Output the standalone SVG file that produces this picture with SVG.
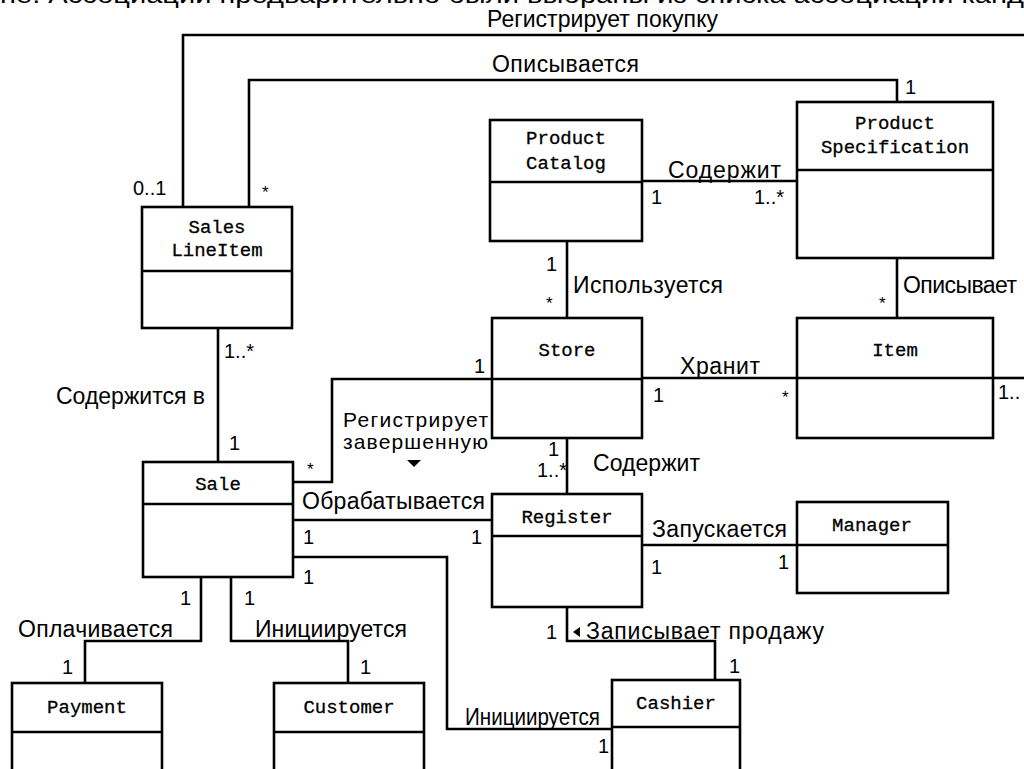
<svg xmlns="http://www.w3.org/2000/svg" width="1024" height="769" viewBox="0 0 1024 769">
  <style>
    .box { fill: #fff; stroke: #000; stroke-width: 2.6; }
    .div { stroke: #000; stroke-width: 2.6; }
    .cls { font-family: "Liberation Mono", "DejaVu Sans Mono", monospace; font-size: 19px; fill: #000; stroke: #000; stroke-width: 0.3; text-anchor: middle; }
    .lbl { font-family: "Liberation Sans", Arial, sans-serif; font-size: 23px; fill: #000; }
    .lbl2 { font-family: "Liberation Sans", Arial, sans-serif; font-size: 21px; fill: #000; }
    .mul { font-family: "Liberation Sans", Arial, sans-serif; font-size: 20px; fill: #000; }
    .star { font-family: "Liberation Sans", Arial, sans-serif; font-size: 17px; fill: #000; }
    .conn { fill: none; stroke: #000; stroke-width: 2.6; }
    .cap { font-family: "Liberation Sans", Arial, sans-serif; font-size: 23px; fill: #000; }
  </style>
  <rect width="1024" height="769" fill="#fff"/>

  <!-- caption line running off the top edge -->
  <text class="cap" x="0" y="3" textLength="1024" lengthAdjust="spacingAndGlyphs">не. Ассоциации предварительно были выбраны из списка ассоциаций канд</text>

  <!-- associations -->
  <g id="connectors">
    <polyline class="conn" points="183,207 183,35 1024,35"/>
    <polyline class="conn" points="249,207 249,80 897,80 897,102"/>
    <line class="conn" x1="642" y1="181" x2="797" y2="181"/>
    <line class="conn" x1="567" y1="241" x2="567" y2="318"/>
    <line class="conn" x1="897" y1="258" x2="897" y2="318"/>
    <line class="conn" x1="642" y1="378" x2="797" y2="378"/>
    <line class="conn" x1="993" y1="378" x2="1024" y2="378"/>
    <line class="conn" x1="218" y1="328" x2="218" y2="462"/>
    <polyline class="conn" points="492,379 332,379 332,482 293,482"/>
    <line class="conn" x1="567" y1="438" x2="567" y2="494"/>
    <line class="conn" x1="293" y1="520" x2="492" y2="520"/>
    <line class="conn" x1="642" y1="545" x2="797" y2="545"/>
    <polyline class="conn" points="293,557 447,557 447,729 612,729"/>
    <polyline class="conn" points="567,607 567,641 715,641 715,680"/>
    <polyline class="conn" points="201,577 201,641 85,641 85,683"/>
    <polyline class="conn" points="231,577 231,641 348,641 348,683"/>
  </g>

  <!-- association labels and multiplicities -->
  <g id="labels">
    <text class="lbl" x="487" y="27" textLength="231">Регистрирует покупку</text>
    <text class="lbl" x="492" y="72" textLength="147">Описывается</text>
    <text class="mul" x="905" y="94">1</text>
    <text class="mul" x="133" y="195">0..1</text>
    <text class="star" x="262" y="198">*</text>

    <text class="lbl" x="668" y="178" textLength="113">Содержит</text>
    <text class="mul" x="651" y="204">1</text>
    <text class="mul" x="754" y="204">1..*</text>

    <text class="mul" x="546" y="271">1</text>
    <text class="star" x="546" y="309">*</text>
    <text class="lbl" x="573" y="293" textLength="150">Используется</text>

    <text class="star" x="879" y="309">*</text>
    <text class="lbl" x="903" y="293" textLength="114">Описывает</text>

    <text class="lbl" x="680" y="374" textLength="80">Хранит</text>
    <text class="mul" x="653" y="402">1</text>
    <text class="star" x="782" y="403">*</text>
    <text class="mul" x="998" y="399">1..</text>

    <text class="mul" x="224" y="358">1..*</text>
    <text class="lbl" x="56" y="404" textLength="149">Содержится в</text>
    <text class="mul" x="229" y="450">1</text>

    <text class="mul" x="474" y="373">1</text>
    <text class="lbl2" x="343" y="427" textLength="145">Регистрирует</text>
    <text class="lbl2" x="343" y="449" textLength="145">завершенную</text>
    <polygon points="407,460 421,460 414,467" fill="#000"/>
    <text class="star" x="307" y="475">*</text>

    <text class="mul" x="548" y="456">1</text>
    <text class="mul" x="537" y="477">1..*</text>
    <text class="lbl" x="593" y="471" textLength="107">Содержит</text>

    <text class="lbl" x="302" y="509" textLength="183">Обрабатывается</text>
    <text class="mul" x="303" y="544">1</text>
    <text class="mul" x="471" y="544">1</text>
    <text class="mul" x="303" y="584">1</text>

    <text class="lbl" x="652" y="537" textLength="135">Запускается</text>
    <text class="mul" x="651" y="574">1</text>
    <text class="mul" x="778" y="569">1</text>

    <text class="mul" x="180" y="605">1</text>
    <text class="mul" x="244" y="605">1</text>
    <text class="lbl" x="18" y="637" textLength="155">Оплачивается</text>
    <text class="lbl" x="255" y="637" textLength="152">Инициируется</text>
    <text class="mul" x="62" y="674">1</text>
    <text class="mul" x="360" y="674">1</text>

    <text class="mul" x="546" y="639">1</text>
    <polygon points="573,632 580,627 580,637" fill="#000"/>
    <text class="lbl" x="586" y="639" textLength="238">Записывает продажу</text>
    <text class="mul" x="729" y="673">1</text>

    <text class="lbl" x="465" y="725" textLength="135" lengthAdjust="spacingAndGlyphs">Инициируется</text>
    <text class="mul" x="598" y="753">1</text>
  </g>

  <!-- classes -->
  <g id="SalesLineItem">
    <rect class="box" x="142" y="207" width="150" height="121"/>
    <line class="div" x1="142" y1="271" x2="292" y2="271"/>
    <text class="cls" x="217" y="233">Sales</text>
    <text class="cls" x="217" y="256">LineItem</text>
  </g>
  <g id="ProductCatalog">
    <rect class="box" x="490" y="120" width="152" height="121"/>
    <line class="div" x1="490" y1="182" x2="642" y2="182"/>
    <text class="cls" x="566" y="144">Product</text>
    <text class="cls" x="566" y="169">Catalog</text>
  </g>
  <g id="ProductSpecification">
    <rect class="box" x="797" y="102" width="196" height="156"/>
    <line class="div" x1="797" y1="170" x2="993" y2="170"/>
    <text class="cls" x="895" y="129">Product</text>
    <text class="cls" x="895" y="153">Specification</text>
  </g>
  <g id="Store">
    <rect class="box" x="492" y="318" width="150" height="120"/>
    <line class="div" x1="492" y1="379" x2="642" y2="379"/>
    <text class="cls" x="567" y="356">Store</text>
  </g>
  <g id="Item">
    <rect class="box" x="797" y="318" width="196" height="120"/>
    <line class="div" x1="797" y1="378" x2="993" y2="378"/>
    <text class="cls" x="895" y="356">Item</text>
  </g>
  <g id="Sale">
    <rect class="box" x="143" y="462" width="150" height="115"/>
    <line class="div" x1="143" y1="504" x2="293" y2="504"/>
    <text class="cls" x="218" y="490">Sale</text>
  </g>
  <g id="Register">
    <rect class="box" x="492" y="494" width="150" height="113"/>
    <line class="div" x1="492" y1="536" x2="642" y2="536"/>
    <text class="cls" x="567" y="523">Register</text>
  </g>
  <g id="Manager">
    <rect class="box" x="797" y="502" width="151" height="91"/>
    <line class="div" x1="797" y1="545" x2="948" y2="545"/>
    <text class="cls" x="872" y="531">Manager</text>
  </g>
  <g id="Payment">
    <rect class="box" x="12" y="683" width="150" height="100"/>
    <line class="div" x1="12" y1="732" x2="162" y2="732"/>
    <text class="cls" x="87" y="713">Payment</text>
  </g>
  <g id="Customer">
    <rect class="box" x="274" y="683" width="150" height="100"/>
    <line class="div" x1="274" y1="732" x2="424" y2="732"/>
    <text class="cls" x="349" y="713">Customer</text>
  </g>
  <g id="Cashier">
    <rect class="box" x="612" y="680" width="128" height="100"/>
    <line class="div" x1="612" y1="727" x2="740" y2="727"/>
    <text class="cls" x="676" y="709">Cashier</text>
  </g>
</svg>
